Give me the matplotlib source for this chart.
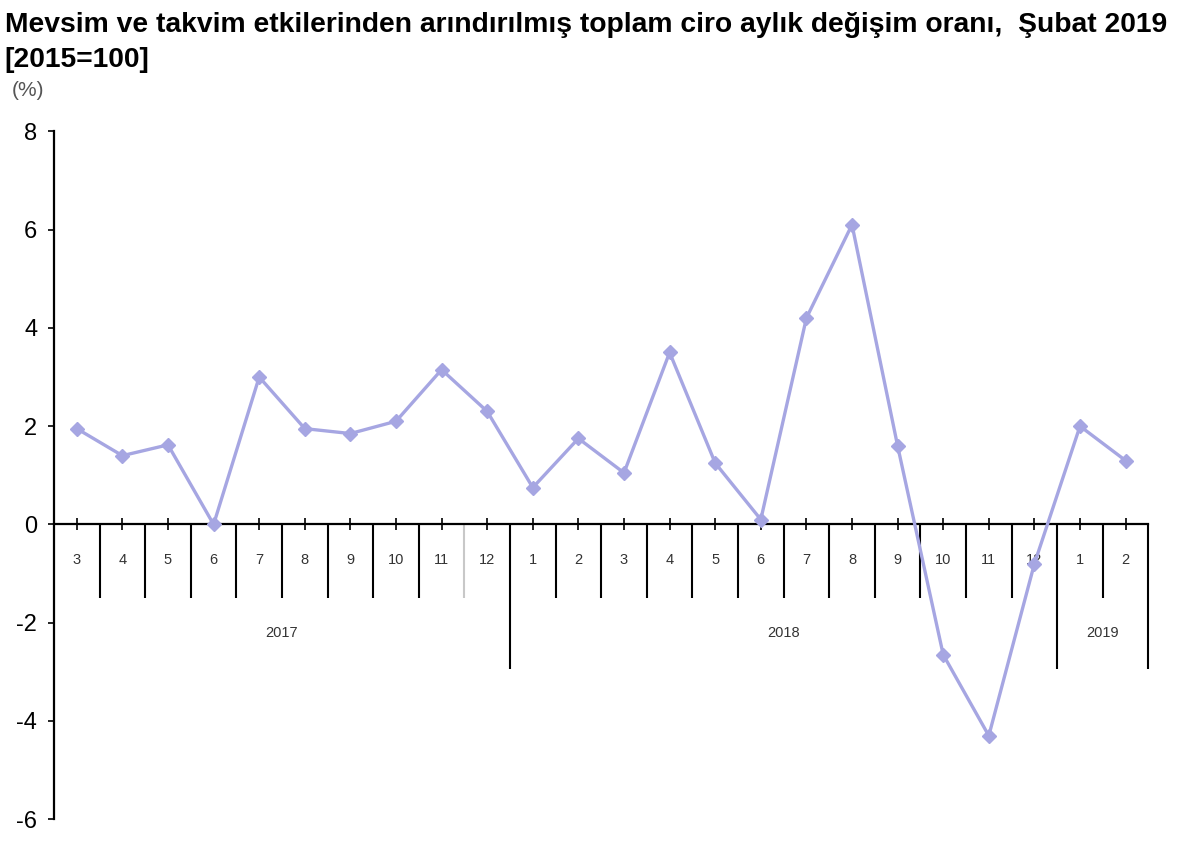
import matplotlib
matplotlib.use("Agg")
import matplotlib.pyplot as plt

plt.rcParams["font.family"] = ["Liberation Sans", "DejaVu Sans"]
plt.rcParams["axes.unicode_minus"] = False

# ── data ─────────────────────────────────────────────────────────────────────
months = ["3", "4", "5", "6", "7", "8", "9", "10", "11", "12",
          "1", "2", "3", "4", "5", "6", "7", "8", "9", "10", "11", "12",
          "1", "2"]
years = ["2017", "2018", "2019"]
months_per_year = [10, 12, 2]
values = [1.95, 1.40, 1.62, 0.0, 3.0, 1.95, 1.85, 2.1, 3.15, 2.3,
          0.75, 1.75, 1.05, 3.5, 1.25, 0.1, 4.2, 6.1, 1.6, -2.65, -4.3, -0.8,
          2.0, 1.3]

LINE_C = "#a6a6e2"

fig = plt.figure(figsize=(12, 8.42), dpi=100)
ax = fig.add_axes([0.045, 0.027, 0.912, 0.817])

x = list(range(len(values)))
ax.plot(x, values, color=LINE_C, lw=2.4, marker="D", markersize=7,
        markerfacecolor=LINE_C, markeredgecolor=LINE_C, zorder=3, clip_on=False)

ax.set_xlim(-0.5, len(values) - 0.5)
ax.set_ylim(-6, 8)
ax.set_yticks(range(-6, 9, 2))
ax.tick_params(axis="y", direction="out", length=4, width=1.2,
               labelsize=17, pad=8)

for s in ["top", "right"]:
    ax.spines[s].set_visible(False)
ax.spines["left"].set_linewidth(1.6)
ax.spines["bottom"].set_position(("data", 0))
ax.spines["bottom"].set_linewidth(1.6)

# month ticks at category centres
ax.set_xticks(x)
ax.set_xticklabels(months, fontsize=10.5, color="#333333")
ax.tick_params(axis="x", direction="inout", length=9, width=1.2, pad=16)

# separators between months and years
SHORT, LONG = -1.5, -2.95
year_ends = []
acc = 0
for n in months_per_year:
    acc += n
    year_ends.append(acc - 0.5)
for b in range(len(values)):
    bx = b + 0.5
    if bx in year_ends:
        ax.vlines(bx, LONG, 0, color="black", lw=1.5, clip_on=False)
    else:
        col = "#c8c8c8" if b == 8 else "black"
        ax.vlines(bx, SHORT, 0, color=col, lw=1.5, clip_on=False)

# year labels
start = -0.5
for yr, n in zip(years, months_per_year):
    ax.text(start + n / 2, -2.2, yr, ha="center", va="center",
            fontsize=10.5, color="#333333")
    start += n

fig.text(0.004, 0.986,
         "Mevsim ve takvim etkilerinden arındırılmış toplam ciro aylık değişim oranı,  Şubat 2019",
         fontsize=20.3, fontweight="bold", ha="left", va="top")
fig.text(0.004, 0.944, "[2015=100]", fontsize=20.3, fontweight="bold",
         ha="left", va="top")
fig.text(0.010, 0.893, "(%)", fontsize=15, color="#555555", ha="left", va="center")

fig.savefig("out.png", dpi=100)
